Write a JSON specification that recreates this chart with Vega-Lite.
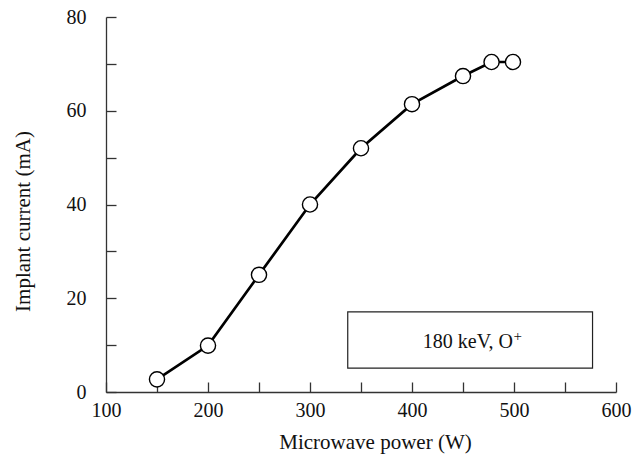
{
  "$schema": "https://vega.github.io/schema/vega-lite/v6.json",
  "width": 510,
  "height": 375,
  "autosize": {"type": "none"},
  "padding": {"left": 106, "top": 17, "right": 26, "bottom": 63},
  "background": "white",
  "config": {
    "view": {"stroke": null},
    "font": "Liberation Serif",
    "axis": {
      "grid": false,
      "domainColor": "#333333",
      "domainWidth": 1.3,
      "tickColor": "#333333",
      "tickWidth": 1.3,
      "tickSize": -10,
      "labelFont": "Liberation Serif",
      "labelFontSize": 20,
      "labelColor": "#111111",
      "labelFlush": false,
      "labelOverlap": false,
      "titleFont": "Liberation Serif",
      "titleFontSize": 21,
      "titleFontWeight": "normal",
      "titleColor": "#111111"
    }
  },
  "datasets": {
    "curve": [
      {"power": 150, "current": 2.7},
      {"power": 200, "current": 9.9},
      {"power": 250, "current": 25.0},
      {"power": 300, "current": 40.0},
      {"power": 350, "current": 52.0},
      {"power": 400, "current": 61.4},
      {"power": 450, "current": 67.4},
      {"power": 478, "current": 70.4},
      {"power": 499, "current": 70.4}
    ],
    "note": [
      {"x1": 337, "x2": 577, "y1": 5.1, "y2": 17.1, "tx": 499, "ty": 9.4, "label": "180 keV, O", "sup": "+"}
    ]
  },
  "layer": [
    {
      "data": {"name": "note"},
      "mark": {"type": "rect", "fill": "white", "stroke": "#222222", "strokeWidth": 1.2},
      "encoding": {
        "x": {"field": "x1", "type": "quantitative", "scale": {"domain": [100, 600]}},
        "x2": {"field": "x2"},
        "y": {"field": "y1", "type": "quantitative", "scale": {"domain": [0, 80]}},
        "y2": {"field": "y2"}
      }
    },
    {
      "data": {"name": "note"},
      "mark": {"type": "text", "font": "Liberation Serif", "fontSize": 20, "baseline": "alphabetic", "align": "right", "color": "#111111"},
      "encoding": {
        "x": {"field": "tx", "type": "quantitative"},
        "y": {"field": "ty", "type": "quantitative"},
        "text": {"field": "label"}
      }
    },
    {
      "data": {"name": "note"},
      "mark": {"type": "text", "font": "Liberation Serif", "fontSize": 15, "baseline": "alphabetic", "align": "left", "dy": -7, "dx": 0.5, "color": "#111111"},
      "encoding": {
        "x": {"field": "tx", "type": "quantitative"},
        "y": {"field": "ty", "type": "quantitative"},
        "text": {"field": "sup"}
      }
    },
    {
      "data": {"name": "curve"},
      "mark": {"type": "line", "color": "black", "strokeWidth": 2.7},
      "encoding": {
        "x": {
          "field": "power", "type": "quantitative",
          "scale": {"domain": [100, 600], "nice": false, "zero": false},
          "axis": {
            "title": "Microwave power (W)",
            "values": [100, 150, 200, 250, 300, 350, 400, 450, 500, 550, 600],
            "labelExpr": "datum.value % 100 === 0 ? datum.value : ''",
            "labelPadding": 18,
            "titleX": 269,
            "titleY": 56,
            "titleBaseline": "alphabetic",
            "titleAnchor": "middle"
          }
        },
        "y": {
          "field": "current", "type": "quantitative",
          "scale": {"domain": [0, 80], "nice": false},
          "axis": {
            "title": "Implant current (mA)",
            "values": [0, 10, 20, 30, 40, 50, 60, 70, 80],
            "labelExpr": "datum.value % 20 === 0 ? datum.value : ''",
            "labelPadding": 30,
            "titleX": -77,
            "titleY": 204,
            "titleBaseline": "alphabetic",
            "titleAnchor": "middle"
          }
        }
      }
    },
    {
      "data": {"name": "curve"},
      "mark": {"type": "point", "shape": "circle", "filled": true, "fill": "white", "stroke": "black", "strokeWidth": 1.4, "size": 230, "opacity": 1},
      "encoding": {
        "x": {"field": "power", "type": "quantitative"},
        "y": {"field": "current", "type": "quantitative"}
      }
    }
  ]
}
